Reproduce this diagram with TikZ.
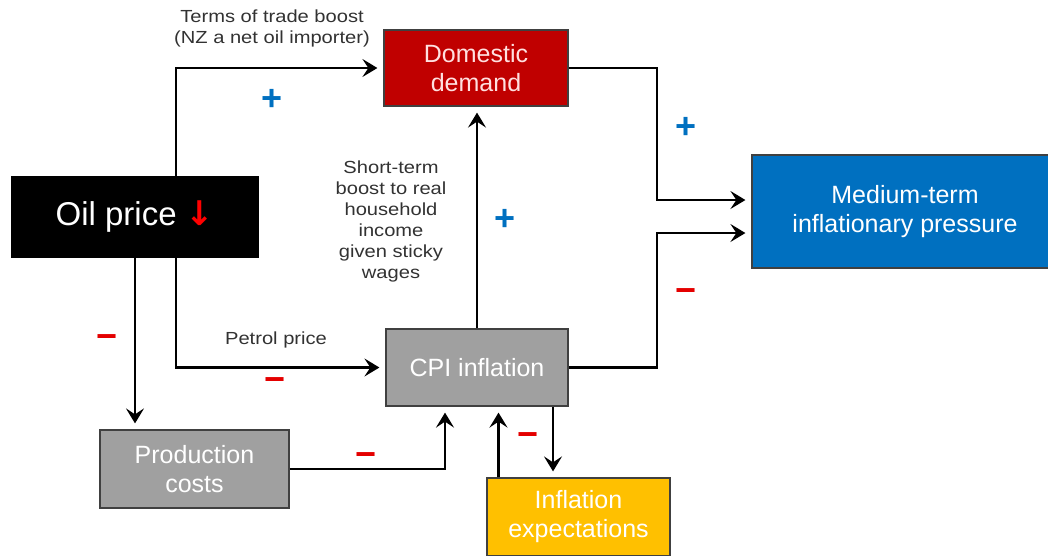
\documentclass[tikz,border=0pt]{standalone}
\usepackage{fontspec}
\setmainfont{Liberation Sans}
\newfontfamily\notefont{Liberation Sans}[FakeStretch=1.15]
\newfontfamily\arrowfont{DejaVu Sans}
\usetikzlibrary{arrows.meta}

\definecolor{ddred}{RGB}{192,0,0}
\definecolor{mtblue}{RGB}{0,112,192}
\definecolor{cpigray}{RGB}{160,160,160}
\definecolor{expgold}{RGB}{255,192,0}
\definecolor{signred}{RGB}{228,0,0}
\definecolor{labelgray}{RGB}{50,50,50}

\tikzset{
  box/.style={draw=black!75, line width=1.2pt, inner sep=0pt, align=center,
    text=white, font=\fontsize{25}{29}\selectfont},
  link/.style={line width=2.9pt, shorten >=6pt,
    -{Stealth[length=15pt,width=18pt,inset=6pt]}},
  note/.style={text=labelgray, align=center, font=\notefont\fontsize{17.5}{21}\selectfont},
  plus/.style={text=mtblue, font=\fontsize{36}{36}\selectfont\bfseries},
  minus/.style={text=signred, font=\fontsize{36}{36}\selectfont\bfseries}
}

\begin{document}
\begin{tikzpicture}[x=1pt,y=1pt,yscale=-1,xscale=1]
\useasboundingbox (0,0) rectangle (1048,555);

% --- 1. boxes ---
\node [box, fill=black, draw=black, minimum width=246pt, minimum height=80pt,
  font=\fontsize{33}{36}\selectfont] (oil) at (135,217) {Oil price {\arrowfont\bfseries\fontsize{34}{34}\selectfont\textcolor{red}{↓}}};
\node [box, fill=ddred, text=red!12, minimum width=184pt, minimum height=76pt] (dd) at (476,68) {Domestic\\demand};
\node [box, fill=mtblue, minimum width=306pt, minimum height=113pt] (mt) at (905,211.5) {Medium-term\\inflationary pressure};
\node [box, fill=cpigray, minimum width=182pt, minimum height=77pt] (cpi) at (477,367.5) {CPI inflation};
\node [box, fill=cpigray, minimum width=189pt, minimum height=78pt] (prod) at (194.5,469) {Production\\costs};
\node [box, fill=expgold, minimum width=183pt, minimum height=78pt] (exp) at (578.5,517) {Inflation\\expectations};

% --- 2. connectors ---
\coordinate (jtop) at (657,200);
\coordinate (jbot) at (657,233);
\draw [link] ([xshift=41pt]oil.north) |- (dd.west);
\draw [link] ([xshift=41pt]oil.south) |- (cpi.west);
\draw [link] (oil.south) -- (oil.south |- prod.north);
\draw [link] (prod.east) -| ([xshift=-32pt]cpi.south);
\draw [link] ([xshift=-80pt]exp.north) -- ([xshift=-80pt]exp.north |- cpi.south);
\draw [link] ([xshift=76pt]cpi.south) -- ([xshift=76pt]cpi.south |- exp.north);
\draw [link] (cpi.north) -- (cpi.north |- dd.south);
\draw [link] (dd.east) -| (jtop) -- (jtop -| mt.west);
\draw [link] (cpi.east) -| (jbot) -- (jbot -| mt.west);

% --- 3. labels and signs ---
\node [note] (tot) at (272,28) {Terms of trade boost\\(NZ a net oil importer)};
\node [note] (income) at (391,221) {Short-term\\boost to real\\household\\income\\given sticky\\wages};
\node [note] (petrol) at (276,340) {Petrol price};

\node [plus] (p1) at (272,100) {+};
\node [plus] (p2) at (505,220) {+};
\node [plus] (p3) at (686,128) {+};
\node [minus] (m1) at (107,342) {−};
\node [minus] (m2) at (275,385) {−};
\node [minus] (m3) at (366,460) {−};
\node [minus] (m4) at (528,440) {−};
\node [minus] (m5) at (686,296) {−};

\end{tikzpicture}
\end{document}
